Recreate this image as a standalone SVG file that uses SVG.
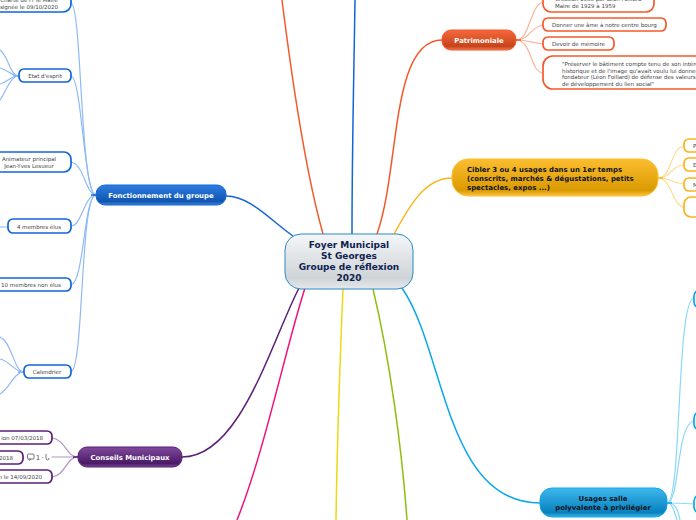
<svg xmlns="http://www.w3.org/2000/svg" width="696" height="520" viewBox="0 0 696 520">
<style>
text{font-family:"DejaVu Sans",Verdana,sans-serif;text-anchor:middle}
.leaf{font-size:5.500px;fill:#444}
.l{text-anchor:start}
.e{text-anchor:end}
.main{font-size:6.900px;font-weight:bold;fill:#fff}
.dark{font-size:6.950px;font-weight:bold;fill:#10131c}
.ctr{font-size:9px;font-weight:bold;fill:#10224f}
.c{fill:none;stroke-width:1.200;stroke-linecap:round}
.t{fill:none;stroke-width:1.500}
.n{fill:#fff;stroke-width:1.700}
.b{stroke:#1366d6}.p{stroke:#5a1f78}.o{stroke:#f4592a}.y{stroke:#fbb41b}.s{stroke:#0aa7ec}
.lb{stroke:#8fbaf5}.lp{stroke:#b491c6}.lo{stroke:#fbb49c}.ly{stroke:#fddd94}.ls{stroke:#8ad7f7}
</style>
<defs>
<linearGradient id="gc" x1="0" y1="0" x2="0" y2="1"><stop offset="0" stop-color="#f4f6f8"/><stop offset=".8" stop-color="#cfd4d8"/><stop offset="1" stop-color="#e6e9eb"/></linearGradient>
<linearGradient id="gb" x1="0" y1="0" x2="0" y2="1"><stop offset="0" stop-color="#2e7de0"/><stop offset=".82" stop-color="#0f55b0"/><stop offset="1" stop-color="#3f86dd"/></linearGradient>
<linearGradient id="gp" x1="0" y1="0" x2="0" y2="1"><stop offset="0" stop-color="#804a9c"/><stop offset=".82" stop-color="#4a1a66"/><stop offset="1" stop-color="#7b4a97"/></linearGradient>
<linearGradient id="go" x1="0" y1="0" x2="0" y2="1"><stop offset="0" stop-color="#f4693c"/><stop offset=".82" stop-color="#c8431a"/><stop offset="1" stop-color="#ee7a52"/></linearGradient>
<linearGradient id="gy" x1="0" y1="0" x2="0" y2="1"><stop offset="0" stop-color="#fcbe2f"/><stop offset=".85" stop-color="#d99a02"/><stop offset="1" stop-color="#fbc545"/></linearGradient>
<linearGradient id="gs" x1="0" y1="0" x2="0" y2="1"><stop offset="0" stop-color="#3fb8ee"/><stop offset=".85" stop-color="#0781bd"/><stop offset="1" stop-color="#3fb4e8"/></linearGradient>
</defs>
<g id="connectors">
<path class="t" stroke="#1366d6" d="M293 236C270 220 250 196 226 196"/>
<path class="t" stroke="#f4592a" d="M323 234C305 170 292 80 282 0"/>
<path class="t" stroke="#1366d6" d="M352 234C352 150 354 70 355 0"/>
<path class="t" stroke="#f4592a" d="M377 234C400 170 390 40 442 40"/>
<path class="t" stroke="#fbb41b" d="M394 234C410 205 425 178 452 178"/>
<path class="t" stroke="#5a1f78" d="M299 288C270 345 240 457 182 457"/>
<path class="t" stroke="#f0137e" d="M305 288C285 350 265 450 237 520"/>
<path class="t" stroke="#eed812" d="M343 289C340 360 337 450 336 520"/>
<path class="t" stroke="#8fbe10" d="M373 289C390 360 402 450 407 520"/>
<path class="t" stroke="#0aa7ec" d="M402 288C445 350 445 503 540 503"/>
<path class="c lb" d="M96 195C80 195 82 5 71 3"/>
<path class="c lb" d="M96 195C84 195 82 78 71 76"/>
<path class="c lb" d="M96 195C86 195 84 164 71 162"/>
<path class="c lb" d="M96 195C84 195 82 226 71 226"/>
<path class="c lb" d="M96 195C84 195 84 283 71 285"/>
<path class="c lb" d="M96 195C80 195 84 368 71 372"/>
<path class="c lb" d="M19 76C10 76 8 55 0 50"/>
<path class="c lb" d="M19 76C12 76 8 70 0 68"/>
<path class="c lb" d="M19 76C10 76 8 82 0 84"/>
<path class="c lb" d="M19 76C10 76 6 92 0 100"/>
<path class="c lb" d="M0 227H8"/>
<path class="c lb" d="M24 372C14 372 12 342 0 337"/>
<path class="c lb" d="M24 372C14 372 10 361 0 359"/>
<path class="c lb" d="M24 372C14 372 10 388 0 394"/>
<path class="c lp" d="M78 457C66 457 66 440 52 438"/>
<path class="c lp" d="M78 457H52"/>
<path class="c lp" d="M78 457C66 457 66 475 52 477"/>
<path class="c lo" d="M516 40C530 40 530 5 543 2"/>
<path class="c lo" d="M516 40C530 40 530 27 543 25"/>
<path class="c lo" d="M516 40C530 40 530 43 543 44"/>
<path class="c lo" d="M516 40C532 40 530 72 543 73"/>
<path class="c ly" d="M658 178C672 178 670 148 684 146"/>
<path class="c ly" d="M658 178C672 178 670 166 684 165"/>
<path class="c ly" d="M658 178C672 178 670 183 684 184"/>
<path class="c ly" d="M658 178C672 178 672 206 684 207"/>
<path class="c ls" d="M667 503C682 503 676 300 694 298"/>
<path class="c ls" d="M667 503C680 503 676 424 694 421"/>
<path class="c ls" d="M667 503C680 503 680 503 694 504"/>
<path class="c ls" d="M667 503C676 503 678 510 680 520"/>
<path class="c ls" d="M667 503C672 503 674 510 677 520"/>
<path fill="none" stroke="#8fbaf5" stroke-width="2" d="M13 76H19M18 372H24"/>
<path fill="none" stroke="#1366d6" stroke-width="1.500" d="M91 195H96"/>
<path fill="none" stroke="#5a1f78" stroke-width="1.500" d="M73 457H78"/>
<path fill="none" stroke="#f4592a" stroke-width="1.500" d="M516 40H521"/>
<path fill="none" stroke="#fbb41b" stroke-width="1.500" d="M658 178H663"/>
<path fill="none" stroke="#0aa7ec" stroke-width="1.500" d="M667 503H672"/>
</g>
<g id="n-top"><rect class="n b" x="-20" y="-20" width="91" height="32" rx="8"/><text class="leaf" x="29" y="2">Charte de Fr le Maire</text><text class="leaf" x="29" y="9">signée le 09/10/2020</text></g>
<g id="n-etat"><rect class="n b" x="19" y="69" width="52" height="13" rx="5"/><text class="leaf" x="45" y="78">Etat d'esprit</text></g>
<g id="n-anim"><rect class="n b" x="-20" y="152" width="91" height="20" rx="7"/><text class="leaf" x="29" y="161">Animateur principal</text><text class="leaf" x="29" y="168">Jean-Yves Lesueur</text></g>
<g id="n-4"><rect class="n b" x="8" y="219" width="63" height="14" rx="5"/><text class="leaf" x="39" y="229">4 membres élus</text></g>
<g id="n-10"><rect class="n b" x="-20" y="278" width="91" height="13" rx="5"/><text class="leaf" x="31" y="287">10 membres non élus</text></g>
<g id="n-cal"><rect class="n b" x="24" y="365" width="47" height="13" rx="5"/><text class="leaf" x="47" y="374">Calendrier</text></g>
<g id="n-fonc"><rect x="96" y="185" width="130" height="20" rx="9" fill="url(#gb)" stroke="#1366d6"/><text class="main" x="161" y="198">Fonctionnement du groupe</text></g>
<g id="n-cons"><rect x="78" y="447" width="104" height="20" rx="9" fill="url(#gp)" stroke="#5a1f78"/><text class="main" x="130" y="460">Conseils Municipaux</text></g>
<g id="n-c1"><rect class="n p" x="-20" y="431" width="72" height="13" rx="5"/><text class="leaf e" x="43" y="440">ion 07/03/2018</text></g>
<g id="n-c2"><rect class="n p" x="-20" y="451" width="43" height="13" rx="5"/><text class="leaf e" x="13" y="460">2018</text>
<rect x="27.500" y="454" width="6.500" height="5" rx="1" fill="#fff" stroke="#555" stroke-width=".8"/><path d="M29 459v1.500l2-1.500" fill="none" stroke="#555" stroke-width=".7"/><text x="38" y="460" font-size="7px" fill="#555">1</text><text x="42.500" y="460" font-size="7px" fill="#555">·</text><path d="M46 454v4q0 2 1.500 2t1.500-2" fill="none" stroke="#555" stroke-width=".8"/></g>
<g id="n-c3"><rect class="n p" x="-20" y="470" width="72" height="13" rx="5"/><text class="leaf e" x="42" y="479">n le 14/09/2020</text></g>
<g id="n-central"><rect x="285" y="234" width="128" height="55" rx="16" fill="url(#gc)" stroke="#2a8ac8"/>
<text class="ctr" x="349" y="248">Foyer Municipal</text><text class="ctr" x="349" y="259">St Georges</text><text class="ctr" x="349" y="270">Groupe de réflexion</text><text class="ctr" x="349" y="281">2020</text></g>
<g id="n-patri"><rect x="442" y="30" width="74" height="20" rx="9" fill="url(#go)" stroke="#f4592a"/><text class="main" x="479" y="43">Patrimoniale</text></g>
<g id="n-p1"><rect class="n o" x="543" y="-20" width="111" height="32" rx="8"/><text class="leaf l" x="555" y="1">Création 1935 par Léon Foillard</text><text class="leaf l" x="555" y="8">Maire de 1929 à 1959</text></g>
<g id="n-p2"><rect class="n o" x="543" y="18" width="123" height="13" rx="5"/><text class="leaf l" x="552" y="27">Donner une âme à notre centre bourg</text></g>
<g id="n-p3"><rect class="n o" x="543" y="37" width="71" height="13" rx="5"/><text class="leaf l" x="552" y="46">Devoir de mémoire</text></g>
<g id="n-p4"><rect class="n o" x="543" y="56" width="180" height="33" rx="10"/><text class="leaf l" x="562" y="66">"Préserver le bâtiment compte tenu de son intérêt</text><text class="leaf l" x="562" y="72.500">historique et de l'image qu'avait voulu lui donner son</text><text class="leaf l" x="562" y="79">fondateur (Léon Foillard) de défense des valeurs et</text><text class="leaf l" x="562" y="85.500">de développement du lien social"</text></g>
<g id="n-cib"><rect x="452" y="159" width="206" height="37" rx="16" fill="url(#gy)" stroke="#fbc02d"/><text class="dark l" x="467" y="172">Cibler 3 ou 4 usages dans un 1er temps</text><text class="dark l" x="467" y="181">(conscrits, marchés &amp; dégustations, petits</text><text class="dark l" x="467" y="189.500">spectacles, expos ...)</text></g>
<g id="n-y1"><rect class="n y" x="684" y="139" width="40" height="13" rx="5"/><text class="leaf l" x="693" y="148">P</text></g>
<g id="n-y2"><rect class="n y" x="684" y="158" width="40" height="13" rx="5"/><text class="leaf l" x="693" y="167">E</text></g>
<g id="n-y3"><rect class="n y" x="684" y="178" width="40" height="13" rx="5"/><text class="leaf l" x="693" y="187">M</text></g>
<g id="n-y4"><rect class="n y" x="684" y="197" width="40" height="20" rx="7"/></g>
<g id="n-usa"><rect x="540" y="488" width="127" height="29" rx="12" fill="url(#gs)" stroke="#0aa7ec"/><text class="dark" x="603" y="501">Usages salle</text><text class="dark" x="603" y="510">polyvalente à privilégier</text></g>
<g id="n-s1"><rect class="n s" x="694" y="290" width="30" height="18" rx="6"/></g>
<g id="n-s2"><rect class="n s" x="694" y="412" width="30" height="18" rx="6"/></g>
<g id="n-s3"><rect class="n s" x="694" y="495" width="30" height="18" rx="6"/></g>
</svg>
